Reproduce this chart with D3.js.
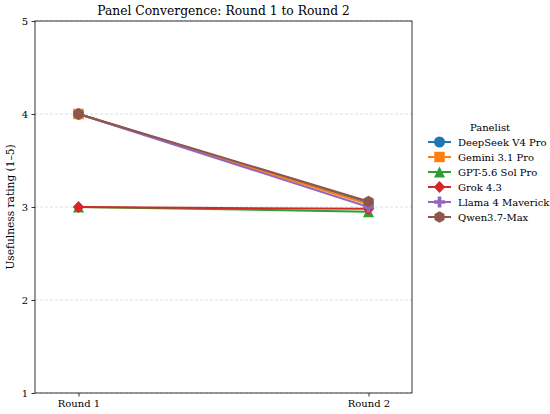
<!DOCTYPE html>
<html>
<head>
<meta charset="utf-8">
<script src="https://cdn.jsdelivr.net/npm/d3@7"></script>
<style>
  body { margin: 0; background: #fff; }
  svg { font-family: "DejaVu Serif", serif; }
</style>
</head>
<body>
<script>
(function(){

    var rounds = ["Round 1", "Round 2"];
    var panelists = ["DeepSeek V4 Pro", "Gemini 3.1 Pro", "GPT-5.6 Sol Pro", "Grok 4.3", "Llama 4 Maverick", "Qwen3.7-Max"];
    var round1 = [4.00, 4.00, 3.00, 3.00, 4.00, 4.00];
    var round2 = [3.04, 3.03, 2.95, 2.98, 3.00, 3.06];
    var yTicks = [1, 2, 3, 4, 5];

    var colors = ["#1f77b4", "#ff7f0e", "#2ca02c", "#d62728", "#9467bd", "#8c564b"];
    var shapes = ["circle", "square", "triangle", "diamond", "plus", "hexagon"];

    var width = 550, height = 414;
    var margin = {top: 21, right: 138, bottom: 21, left: 35};

    var svg = d3.select("body")
        .append("svg")
        .attr("width", width)
        .attr("height", height);

    var x = d3.scaleLinear()
        .domain([-0.15, 1.15])
        .range([margin.left, width - margin.right]);

    var y = d3.scaleLinear()
        .domain([1, 5])
        .range([height - margin.bottom, margin.top]);

    // grid
    svg.append("g")
        .selectAll("line")
        .data(yTicks)
        .enter()
        .append("line")
        .attr("x1", margin.left)
        .attr("x2", width - margin.right)
        .attr("y1", d => y(d))
        .attr("y2", d => y(d))
        .style("stroke", "#b0b0b0")
        .style("stroke-opacity", 0.5)
        .style("stroke-dasharray", "3,2")
        .style("stroke-width", 0.8);

    // matplotlib-like marker outlines, r = half of marker size in px
    function markerPath(shape, r){
        var pts;
        if (shape === "circle") {
            return d3.symbol().type(d3.symbolCircle).size(Math.PI * r * r)();
        } else if (shape === "square") {
            var h = r * 0.95;
            pts = [[-h, -h], [h, -h], [h, h], [-h, h]];
        } else if (shape === "triangle") {
            pts = [[0, -r], [r, r], [-r, r]];
        } else if (shape === "diamond") {
            var d = r * 1.1;
            pts = [[0, -d], [d * 0.95, 0], [0, d], [-d * 0.95, 0]];
        } else if (shape === "plus") {
            var a = r, b = r / 3;
            pts = [[-b, -a], [b, -a], [b, -b], [a, -b], [a, b], [b, b], [b, a], [-b, a], [-b, b], [-a, b], [-a, -b], [-b, -b]];
        } else {
            pts = d3.range(6).map(i => {
                var t = Math.PI / 6 + i * Math.PI / 3;
                return [r * 1.05 * Math.cos(t), r * 1.05 * Math.sin(t)];
            });
        }
        return "M" + pts.join("L") + "Z";
    }

    var series = panelists.map((name, i) => ({
        name: name,
        color: colors[i],
        shape: shapes[i],
        values: [round1[i], round2[i]]
    }));

    var line = d3.line()
        .x((d, i) => x(i))
        .y(d => y(d));

    var plot = svg.append("g");

    series.forEach(s => {
        var g = plot.append("g");
        g.append("path")
            .attr("d", line(s.values))
            .style("fill", "none")
            .style("stroke", s.color)
            .style("stroke-width", 2);

        g.selectAll("path.mark")
            .data(s.values)
            .enter()
            .append("path")
            .attr("class", "mark")
            .attr("transform", (d, i) => `translate(${x(i)},${y(d)})`)
            .attr("d", markerPath(s.shape, 5.5))
            .style("fill", s.color);
    });

    // axes
    var xAxis = svg.append("g")
        .attr("transform", `translate(0,${height - margin.bottom})`)
        .call(d3.axisBottom(x).tickValues([0, 1]).tickFormat(i => rounds[i]).tickSize(3.5).tickPadding(3.5));

    var yAxis = svg.append("g")
        .attr("transform", `translate(${margin.left},0)`)
        .call(d3.axisLeft(y).tickValues(yTicks).tickFormat(d3.format("d")).tickSize(3.5).tickPadding(3.5));

    [xAxis, yAxis].forEach(a => {
        a.select(".domain").remove();
        a.selectAll("text").style("font-family", "DejaVu Serif").style("font-size", "10px").style("fill", "#000");
        a.selectAll("line").style("stroke", "#000").style("stroke-width", 0.8);
    });

    // frame
    svg.append("rect")
        .attr("x", margin.left)
        .attr("y", margin.top)
        .attr("width", width - margin.right - margin.left)
        .attr("height", height - margin.bottom - margin.top)
        .style("fill", "none")
        .style("stroke", "#000")
        .style("stroke-width", 0.8);

    svg.append("text")
        .attr("x", (margin.left + width - margin.right) / 2)
        .attr("y", 15)
        .attr("text-anchor", "middle")
        .style("font-size", "12.3px")
        .text("Panel Convergence: Round 1 to Round 2");

    svg.append("text")
        .attr("transform", `translate(14,${(margin.top + height - margin.bottom) / 2}) rotate(-90)`)
        .attr("text-anchor", "middle")
        .style("font-size", "10.6px")
        .text("Usefulness rating (1\u20135)");

    // legend
    var legend = svg.append("g").attr("transform", "translate(428,0)");

    legend.append("text")
        .attr("x", 62)
        .attr("y", 131)
        .attr("text-anchor", "middle")
        .style("font-size", "10px")
        .text("Panelist");

    series.forEach((s, i) => {
        var ly = 142 + i * 15;
        var item = legend.append("g").attr("transform", `translate(0,${ly})`);
        item.append("line")
            .attr("x1", 0)
            .attr("x2", 23)
            .style("stroke", s.color)
            .style("stroke-width", 2);
        item.append("path")
            .attr("transform", "translate(11.5,0)")
            .attr("d", markerPath(s.shape, 5.5))
            .style("fill", s.color);
        item.append("text")
            .attr("x", 30)
            .attr("y", 3.5)
            .style("font-size", "10px")
            .text(s.name);
    });

})();
</script>
</body>
</html>
